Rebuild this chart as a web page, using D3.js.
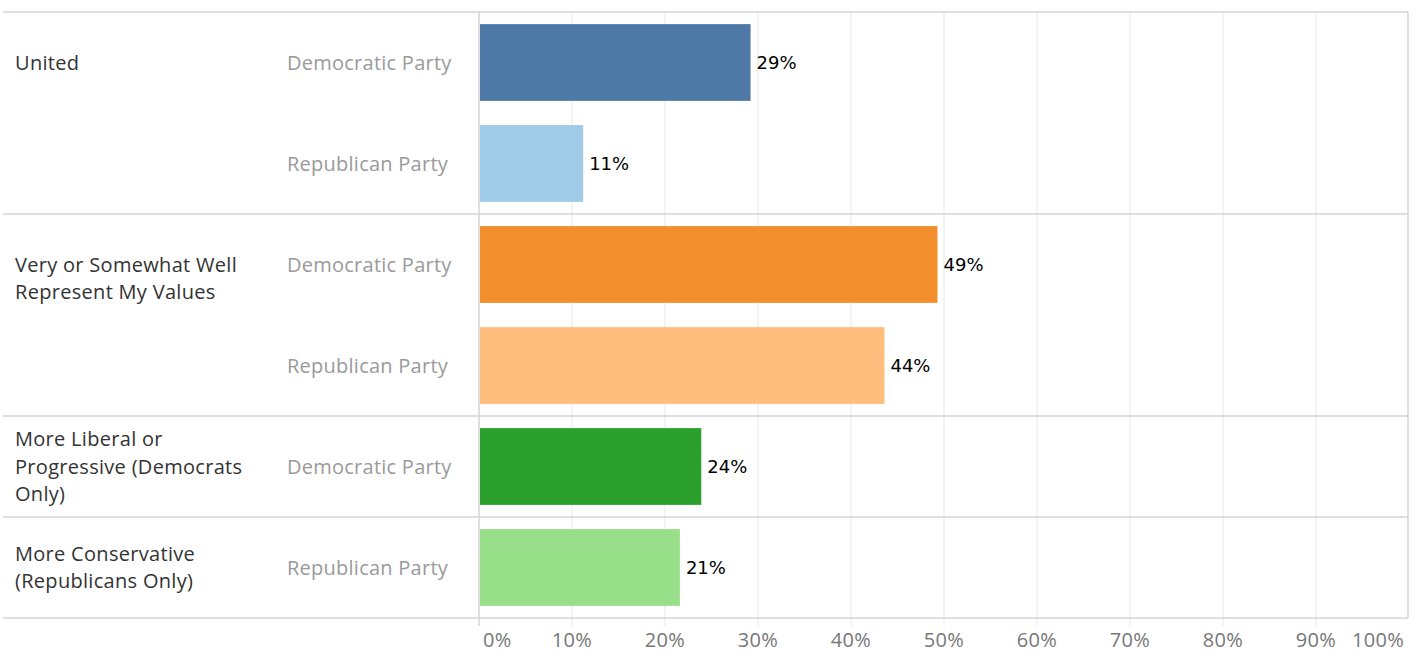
<!DOCTYPE html>
<html><head><meta charset="utf-8">
<script src="https://cdn.jsdelivr.net/npm/d3@7"></script>
<style>body{margin:0;background:#fff;} svg{display:block;font-family:"Open Sans",sans-serif;}</style>
</head><body>
<svg id="c" width="1423" height="653"></svg>
<script>
const groups = [
  {name: ["United"], n: 2},
  {name: ["Very or Somewhat Well", "Represent My Values"], n: 2},
  {name: ["More Liberal or", "Progressive (Democrats", "Only)"], n: 1},
  {name: ["More Conservative", "(Republicans Only)"], n: 1}
];
const parties = ["Democratic Party", "Republican Party", "Democratic Party", "Republican Party", "Democratic Party", "Republican Party"];
const values = [29.2, 11.2, 49.3, 43.6, 23.9, 21.6];
const labels = ["29%", "11%", "49%", "44%", "24%", "21%"];
const colors = ["#4e79a7", "#a0cbe8", "#f28e2b", "#ffbe7d", "#2ca02c", "#98df8a"];
const ticks = [0,10,20,30,40,50,60,70,80,90,100];

const svg = d3.select("#c");
const x = d3.scaleLinear().domain([0,100]).range([479,1409]);
const y = d3.scaleBand().domain(d3.range(values.length)).range([12,618]).paddingInner(0.24).paddingOuter(0.12);
const rowY = d3.scaleLinear().domain([0, values.length]).range([12,618]);

// gridlines
svg.append("g").selectAll("line").data(ticks.filter(t=>t>0 && t<100)).join("line")
  .attr("x1",d=>x(d)).attr("x2",d=>x(d)).attr("y1",12).attr("y2",626)
  .attr("stroke","#efefef").attr("stroke-width",1.5);

// group separators
let cum = 0;
const seps = [0];
groups.forEach(g=>{cum+=g.n; seps.push(cum);});
svg.append("g").selectAll("line").data(seps).join("line")
  .attr("x1",3).attr("x2",1408).attr("y1",d=>rowY(d)).attr("y2",d=>rowY(d))
  .attr("stroke","#d4d4d4").attr("stroke-width",1.5);
svg.append("line").attr("x1",1408).attr("x2",1408).attr("y1",12).attr("y2",618).attr("stroke","#d4d4d4").attr("stroke-width",1.5);
svg.append("line").attr("x1",x(0)).attr("x2",x(0)).attr("y1",12).attr("y2",626).attr("stroke","#d4d4d4").attr("stroke-width",1.5);

// bars
svg.append("g").selectAll("rect").data(values).join("rect")
  .attr("x",x(0)+1).attr("y",(d,i)=>y(i)).attr("height",y.bandwidth())
  .attr("width",d=>x(d)-x(0)-1).attr("fill",(d,i)=>colors[i]);

svg.append("g").selectAll("text").data(values).join("text")
  .attr("x",d=>x(d)+6).attr("y",(d,i)=>y(i)+y.bandwidth()/2).attr("dy","0.36em")
  .attr("font-family","'DejaVu Sans',sans-serif")
  .attr("font-size",18).attr("fill","#000").text((d,i)=>labels[i]);

// party labels
svg.append("g").selectAll("text").data(parties).join("text")
  .attr("x",287).attr("y",(d,i)=>y(i)+y.bandwidth()/2).attr("dy","0.36em")
  .attr("font-size",20).attr("letter-spacing",0.25).attr("fill","#9a9a9a").text(d=>d);

// group labels
groups.forEach((g,gi)=>{
  const lh = 27.5;
  const firstCenter = y(seps[gi]) + y.bandwidth()/2;
  const startY = g.n > 1 ? firstCenter : firstCenter - (g.name.length-1)/2*lh;
  const t = svg.append("text").attr("font-size",20).attr("letter-spacing",0.3).attr("fill","#333");
  g.name.forEach((ln,li)=>{
    t.append("tspan").attr("x",15).attr("y", startY + li*lh).attr("dy","0.36em").text(ln);
  });
});

// axis tick labels
svg.append("g").selectAll("text").data(ticks).join("text")
  .attr("x",d=> d===0 ? x(d)+4 : d===100 ? x(d)-5 : x(d))
  .attr("text-anchor",d=> d===0 ? "start" : d===100 ? "end" : "middle")
  .attr("y",646.5).attr("font-size",20).attr("letter-spacing",0.3).attr("fill","#777")
  .text(d=>d+"%");
</script>
</body></html>
